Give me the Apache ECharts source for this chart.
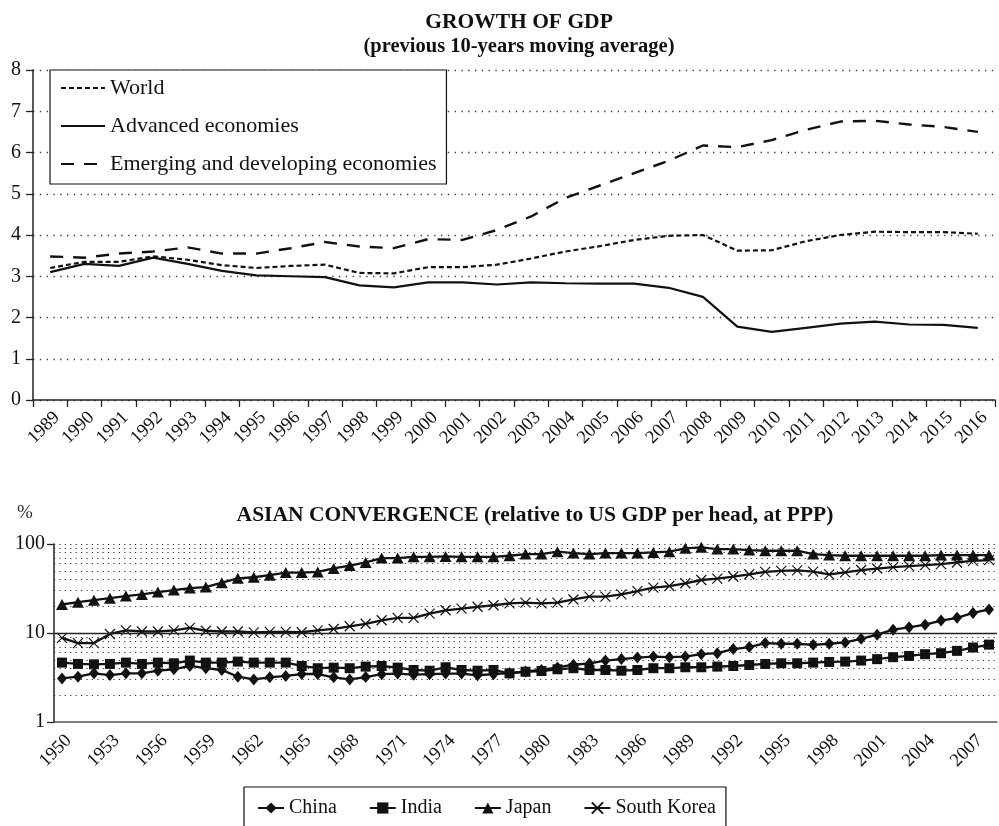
<!DOCTYPE html>
<html>
<head>
<meta charset="utf-8">
<title>Growth of GDP / Asian convergence</title>
<script src="https://cdn.jsdelivr.net/npm/echarts@6/dist/echarts.min.js"></script>
<style>
  html, body { margin: 0; padding: 0; background: #fff; }
  #chart { width: 999px; height: 826px; }
</style>
</head>
<body>
<div id="chart"></div>
<script>
// top panel: 10-year moving average of GDP growth
var years1 = ['1989','1990','1991','1992','1993','1994','1995','1996','1997','1998','1999','2000','2001','2002',
              '2003','2004','2005','2006','2007','2008','2009','2010','2011','2012','2013','2014','2015','2016'];
var world = [3.2,3.35,3.35,3.48,3.4,3.27,3.2,3.25,3.28,3.08,3.07,3.22,3.22,3.28,
             3.43,3.6,3.73,3.88,3.98,4.0,3.62,3.63,3.85,4.0,4.08,4.07,4.07,4.03];
var advanced = [3.1,3.3,3.25,3.45,3.3,3.13,3.02,3.0,2.98,2.78,2.73,2.85,2.85,2.8,
                2.85,2.83,2.82,2.82,2.72,2.5,1.78,1.65,1.75,1.85,1.9,1.83,1.82,1.75];
var emerging = [3.48,3.45,3.55,3.6,3.7,3.55,3.55,3.68,3.83,3.72,3.68,3.9,3.88,4.12,
                4.45,4.9,5.2,5.5,5.8,6.17,6.13,6.3,6.55,6.75,6.77,6.68,6.62,6.5];

// bottom panel: GDP per head relative to US (%)
var years2 = ['1950','1951','1952','1953','1954','1955','1956','1957','1958','1959',
              '1960','1961','1962','1963','1964','1965','1966','1967','1968','1969',
              '1970','1971','1972','1973','1974','1975','1976','1977','1978','1979',
              '1980','1981','1982','1983','1984','1985','1986','1987','1988','1989',
              '1990','1991','1992','1993','1994','1995','1996','1997','1998','1999',
              '2000','2001','2002','2003','2004','2005','2006','2007','2008'];
var china = [3.09,3.23,3.52,3.37,3.52,3.52,3.77,3.91,4.26,4.02,
             3.84,3.23,3.01,3.18,3.29,3.46,3.46,3.18,3.01,3.2,
             3.45,3.5,3.4,3.45,3.5,3.5,3.35,3.45,3.55,3.7,
             3.85,4.1,4.4,4.55,4.9,5.1,5.3,5.43,5.35,5.43,
             5.78,5.93,6.59,6.94,7.7,7.57,7.57,7.37,7.57,7.83,
             8.61,9.57,10.9,11.6,12.4,13.8,14.8,16.8,18.4];
var india = [4.65,4.49,4.45,4.49,4.65,4.49,4.65,4.57,4.9,4.65,
             4.65,4.77,4.65,4.65,4.65,4.26,4.02,4.08,4.02,4.19,
             4.26,4.08,3.84,3.77,4.12,3.84,3.77,3.84,3.52,3.67,
             3.74,3.91,4.02,3.84,3.84,3.77,3.84,4.02,4.02,4.12,
             4.12,4.19,4.26,4.37,4.49,4.57,4.57,4.65,4.73,4.77,
             4.9,5.08,5.35,5.52,5.78,5.93,6.3,6.87,7.4];
var japan = [20.9,22.2,23.4,24.6,26.0,27.1,28.8,30.4,32.0,32.8,
             36.8,41.2,42.3,44.6,47.8,47.8,48.6,53.1,57.3,62,
             69.4,69.4,71.8,71.8,72.5,71.8,71.8,71.8,73.8,77.1,
             77.1,81.9,79.1,77.1,79.1,79.1,79.1,80.5,82,89.4,
             91.8,87.8,87.8,85.5,84,84,84,77,75,73.8,
             73.8,73.8,73.8,73.8,73.8,75,75,75,75];
var korea = [8.8,7.7,7.7,9.75,10.7,10.4,10.4,10.7,11.4,10.6,
             10.4,10.4,10.15,10.3,10.3,10.2,10.7,11.1,11.9,12.7,
             13.9,14.8,14.8,16.5,18.0,18.8,19.7,20.5,21.5,21.9,
             21.5,21.9,23.8,25.6,25.6,27.2,29.6,32.3,33.7,36.2,
             39.4,40.9,43.1,45.7,48.6,49.9,50.5,49,45.5,48,
             51,53,55,56.5,58,59.5,62,64.5,66];

// log-scale reference lines (the library's log axis only draws decades)
var minorLines = [2,3,4,5,6,7,8,9,20,30,40,50,60,70,80,90,100];
var majorLines = [10];

var serif = 'Liberation Serif';
var ink = '#111';

var gridMarks = minorLines.map(function (v) { return { yAxis: v }; })
  .concat(majorLines.map(function (v) {
    return { yAxis: v, lineStyle: { type: 'solid', color: '#222', width: 1.3 } };
  }));

var crossPath = 'path://M0,0L10,10M10,0L0,10';

function markerLine(name, data, symbol, size, extraItem) {
  return {
    name: name, type: 'line', xAxisIndex: 1, yAxisIndex: 1, data: data,
    symbol: symbol, symbolSize: size, showAllSymbol: true,
    lineStyle: { color: ink, width: 2.3 },
    itemStyle: extraItem || { color: ink }
  };
}

var chinaSeries = markerLine('China', china, 'diamond', [10, 12]);
chinaSeries.markLine = {
  silent: true, symbol: ['none', 'none'], label: { show: false }, animation: false,
  lineStyle: { type: [1.2, 4.2], color: '#333', width: 1.2 },
  data: gridMarks
};

var chart = echarts.init(document.getElementById('chart'));
chart.setOption({
  animation: false,
  backgroundColor: '#fff',
  textStyle: { fontFamily: serif, color: ink },
  title: [
    { text: 'GROWTH OF GDP', left: 514, top: 6, textAlign: 'center',
      textStyle: { fontFamily: serif, fontSize: 21.5, fontWeight: 'bold', color: ink } },
    { text: '(previous 10-years moving average)', left: 514, top: 31, textAlign: 'center',
      textStyle: { fontFamily: serif, fontSize: 20.5, fontWeight: 'bold', color: ink } },
    { text: 'ASIAN CONVERGENCE (relative to US GDP per head, at PPP)', left: 530, top: 499, textAlign: 'center',
      textStyle: { fontFamily: serif, fontSize: 21.5, fontWeight: 'bold', color: ink } },
    { text: '%', left: 12, top: 499,
      textStyle: { fontFamily: serif, fontSize: 19, fontWeight: 'normal', color: '#333' } }
  ],
  legend: [
    {
      data: ['World', 'Advanced economies', 'Emerging and developing economies'],
      orient: 'vertical', left: 50, top: 70,
      padding: [7, 10, 9, 10],
      itemWidth: 44, itemHeight: 20, itemGap: 16,
      itemStyle: { opacity: 0 },
      borderColor: '#111', borderWidth: 1.2, backgroundColor: '#fff',
      textStyle: { fontFamily: serif, fontSize: 22, color: ink }
    },
    {
      data: ['China', 'India', 'Japan', 'South Korea'],
      orient: 'horizontal', left: 244, top: 787,
      padding: [11, 10, 11, 13],
      itemWidth: 26, itemHeight: 14, itemGap: 32,
      borderColor: '#111', borderWidth: 1.2, backgroundColor: '#fff',
      textStyle: { fontFamily: serif, fontSize: 20, color: ink }
    }
  ],
  grid: [
    { left: 33, right: 4, top: 70, bottom: 426 },
    { left: 54, right: 2, top: 544, bottom: 104 }
  ],
  xAxis: [
    {
      type: 'category', gridIndex: 0, data: years1, boundaryGap: true,
      axisLine: { lineStyle: { color: '#222', width: 1.5 } },
      axisTick: { show: true, interval: 0, length: 7, lineStyle: { color: '#222', width: 1.3 } },
      axisLabel: { interval: 0, rotate: 45, margin: 8, verticalAlign: 'top',
                   fontFamily: serif, fontSize: 18.5, color: ink }
    },
    {
      type: 'category', gridIndex: 1, data: years2, boundaryGap: true,
      axisLine: { lineStyle: { color: '#555', width: 1.5 } },
      axisTick: { show: false },
      axisLabel: { interval: 2, rotate: 45, margin: 9, verticalAlign: 'top',
                   fontFamily: serif, fontSize: 18.5, color: ink }
    }
  ],
  yAxis: [
    {
      type: 'value', gridIndex: 0, min: 0, max: 8, interval: 1,
      axisLine: { show: true, lineStyle: { color: '#222', width: 1.5 } },
      axisTick: { show: true, length: 7, lineStyle: { color: '#222', width: 1.3 } },
      axisLabel: { margin: 12, fontFamily: serif, fontSize: 20, color: ink },
      splitLine: { show: true, lineStyle: { type: [1.3, 5.5], color: '#333', width: 1.3 } }
    },
    {
      type: 'log', gridIndex: 1, min: 1, max: 100, logBase: 10,
      axisLine: { show: true, lineStyle: { color: '#222', width: 1.5 } },
      axisTick: { show: true, length: 7, lineStyle: { color: '#222', width: 1.3 } },
      axisLabel: { margin: 9, fontFamily: serif, fontSize: 20, color: ink },
      splitLine: { show: false }
    }
  ],
  series: [
    {
      name: 'World', type: 'line', xAxisIndex: 0, yAxisIndex: 0, data: world,
      symbol: 'none', lineStyle: { color: ink, width: 2.2, type: [5, 3] }, itemStyle: { color: ink }
    },
    {
      name: 'Advanced economies', type: 'line', xAxisIndex: 0, yAxisIndex: 0, data: advanced,
      symbol: 'none', lineStyle: { color: ink, width: 2.2, type: 'solid' }, itemStyle: { color: ink }
    },
    {
      name: 'Emerging and developing economies', type: 'line', xAxisIndex: 0, yAxisIndex: 0, data: emerging,
      symbol: 'none', lineStyle: { color: ink, width: 2.4, type: [13, 10] }, itemStyle: { color: ink }
    },
    chinaSeries,
    markerLine('India', india, 'rect', 10),
    markerLine('Japan', japan, 'triangle', [12, 11]),
    markerLine('South Korea', korea, crossPath, 10,
               { color: 'rgba(0,0,0,0)', borderColor: ink, borderWidth: 1.2 })
  ]
});
</script>
</body>
</html>
